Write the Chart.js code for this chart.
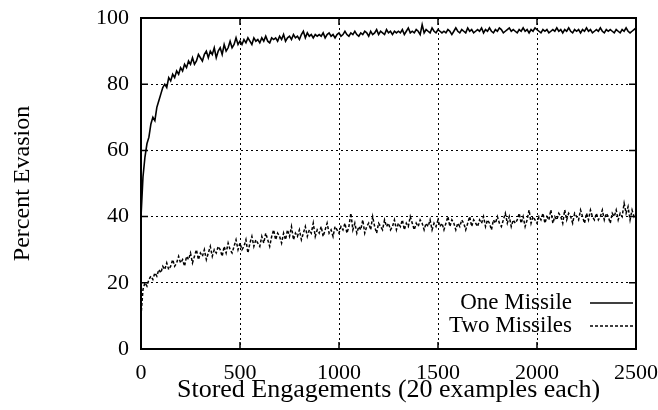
<!DOCTYPE html>
<html>
<head>
<meta charset="utf-8">
<script src="https://cdn.jsdelivr.net/npm/chart.js@4.4.1/dist/chart.umd.min.js"></script>
<style>
  html, body { margin: 0; padding: 0; background: #fff; }
  #wrap { width: 658px; height: 410px; }
</style>
</head>
<body>
<div id="wrap"><canvas id="chart" width="658" height="410"></canvas></div>
<script>
// x positions: one sample every 10 stored engagements, 0..2500
const xStep = 10;
const xTicks = [0, 500, 1000, 1500, 2000, 2500];
const yTicks = [0, 20, 40, 60, 80, 100];

// percent evasion (rows of 10 samples = 100 engagements)
const oneMissile = [
  40, 52, 58, 62, 64, 68, 70, 69, 73, 75,
  77, 79, 80, 79, 82, 81, 83, 82, 84, 83,
  85, 84, 86, 85, 87, 86, 88, 86, 87, 89,
  88, 87, 89, 90, 88, 90, 89, 91, 88, 90,
  91, 89, 92, 90, 91, 93, 91, 92, 94, 92,
  93, 92, 93.5, 92.5, 94, 93, 92, 94, 93, 93.5,
  92.5, 94, 93, 94.5, 93, 92.5, 94, 93.5, 94, 93,
  94.5, 93.5, 95, 93, 94, 94.5, 93.5, 95, 94, 94.5,
  93.5, 95, 96, 94, 95.5, 94.5, 95, 94, 95, 94.5,
  95, 94.5, 95.5, 94, 95, 95.5, 94.5, 95, 94, 95,
  95.5, 94.5, 95, 96, 95, 94.5, 95.5, 95, 96, 95,
  94.5, 95.5, 95, 96, 95.5, 94.5, 96, 95, 95.5, 96.5,
  95, 96, 95.5, 95, 96.5, 95.5, 96, 95, 96, 95.5,
  96, 95.5, 96.5, 95, 96, 97, 95.5, 96, 95.5, 96.5,
  96, 95, 98, 95.5, 96.5, 96, 95.5, 97, 96, 95.5,
  96.5, 96, 95.5, 96, 95.5, 96.5, 96, 95, 96, 97,
  96, 95.5, 96.5, 96, 95.5, 97, 96, 96.5, 95.5, 96,
  96.5, 96, 97, 95.5, 96.5, 96, 97, 96, 95.5, 96.5,
  96, 97, 96.5, 95.5, 96, 96.5, 97, 96, 96.5, 96,
  95.5, 96.5, 96, 97, 96, 96.5, 95.5, 96.5, 96, 97,
  96.5, 96, 95.5, 96.5, 96, 96.5, 95.5, 96, 96.5, 96,
  97, 96, 96.5, 95.5, 96.5, 96, 97, 96, 95.5, 96.5,
  96, 96.5, 95.5, 96.5, 96, 97, 96, 96.5, 95.5, 96,
  96.5, 96, 97, 96, 95.5, 96.5, 96, 96.5, 96, 95.5,
  96.5, 96, 95.5, 96.5, 96, 97, 96, 95.5, 96, 96.5,
  97
];

const twoMissiles = [
  10, 18, 20, 19, 21, 22, 21, 23, 22, 24,
  23, 25, 24, 26, 24, 25, 27, 25, 26, 28,
  26, 27, 25, 28, 27, 29, 26, 28, 30, 27,
  29, 28, 30, 27, 29, 31, 28, 30, 29, 31,
  30, 28, 31, 29, 32, 30, 29, 31, 33, 30,
  32, 30, 31, 33, 29, 32, 34, 31, 33, 32,
  31, 34, 32, 35, 33, 31, 34, 36, 33, 35,
  34, 32, 35, 33, 36, 34, 37, 33, 35, 34,
  36, 33, 35, 37, 34, 36, 35, 38, 34, 36,
  35, 37, 34, 36, 38, 35, 36, 34, 37, 36,
  35, 37, 36, 38, 35, 37, 41, 36, 38, 35,
  37, 36, 39, 35, 37, 38, 36, 40, 37, 35,
  38, 37, 36, 39, 37, 38, 36, 37, 39, 36,
  38, 37, 39, 36, 38, 37, 40, 38, 36, 38,
  37, 39, 38, 36, 38, 37, 39, 36, 38, 37,
  39, 37, 38, 36, 38, 40, 37, 39, 38, 36,
  38, 37, 39, 38, 36, 38, 40, 37, 39, 38,
  37, 39, 38, 40, 37, 39, 38, 36, 39, 38,
  40, 38, 37, 39, 41, 38, 40, 37, 39, 38,
  39, 41, 38, 40, 37, 39, 42, 38, 40, 39,
  38, 40, 39, 41, 38, 40, 39, 42, 38, 40,
  39, 41, 40, 38, 42, 39, 41, 40, 38, 41,
  40, 39, 42, 40, 38, 41, 39, 42, 40, 39,
  41, 39, 40, 42, 39, 41, 40, 38, 41, 40,
  42, 39, 41, 40, 44, 41, 43, 39, 42, 40,
  41
];

const seriesNames = ["One Missile", "Two Missiles"];

const FONT = "'Liberation Serif', 'Times New Roman', serif";
const toPoints = arr => arr.map((v, i) => ({ x: i * xStep, y: v }));

// frame + inward tick marks
const framePlugin = {
  id: "frame",
  afterDatasetsDraw(chart) {
    const { ctx, chartArea: a, scales } = chart;
    ctx.save();
    ctx.strokeStyle = "#000";
    ctx.lineWidth = 1.5;
    ctx.beginPath();
    xTicks.forEach(t => {
      const px = scales.x.getPixelForValue(t);
      ctx.moveTo(px, a.bottom); ctx.lineTo(px, a.bottom - 7);
      ctx.moveTo(px, a.top); ctx.lineTo(px, a.top + 7);
    });
    yTicks.forEach(t => {
      const py = scales.y.getPixelForValue(t);
      ctx.moveTo(a.left, py); ctx.lineTo(a.left + 7, py);
      ctx.moveTo(a.right, py); ctx.lineTo(a.right - 7, py);
    });
    ctx.stroke();
    ctx.lineWidth = 2;
    ctx.strokeRect(a.left, a.top, a.right - a.left, a.bottom - a.top);
    ctx.restore();
  }
};

// gnuplot-style key: text, then line sample
const keyPlugin = {
  id: "key",
  afterDraw(chart) {
    const { ctx, chartArea: a } = chart;
    ctx.save();
    ctx.font = "23px " + FONT;
    ctx.fillStyle = "#000";
    ctx.textAlign = "right";
    ctx.textBaseline = "middle";
    chart.data.datasets.forEach((ds, i) => {
      const y = a.bottom - 46 + i * 23;
      ctx.fillText(ds.label, a.right - 64, y);
      ctx.strokeStyle = "#000";
      ctx.lineWidth = 1.3;
      ctx.setLineDash(ds.borderDash || []);
      ctx.beginPath();
      ctx.moveTo(a.right - 46, y);
      ctx.lineTo(a.right - 3, y);
      ctx.stroke();
    });
    ctx.restore();
  }
};

new Chart(document.getElementById("chart"), {
  type: "line",
  data: {
    datasets: [
      {
        label: seriesNames[0],
        data: toPoints(oneMissile),
        borderColor: "#000",
        borderWidth: 1.6,
        pointRadius: 0,
        tension: 0
      },
      {
        label: seriesNames[1],
        data: toPoints(twoMissiles),
        borderColor: "#000",
        borderWidth: 1.5,
        borderDash: [3, 2],
        pointRadius: 0,
        tension: 0
      }
    ]
  },
  options: {
    responsive: false,
    animation: false,
    layout: { padding: { top: 18, right: 22, left: 0, bottom: 0 } },
    plugins: {
      legend: { display: false },
      tooltip: { enabled: false }
    },
    scales: {
      x: {
        type: "linear",
        min: 0,
        max: 2500,
        afterBuildTicks: s => { s.ticks = xTicks.map(v => ({ value: v })); },
        afterFit: s => { s.height = 61; s.paddingLeft = 0; s.paddingRight = 0; },
        grid: { color: "#000", lineWidth: 1, drawTicks: false },
        border: { display: false, dash: [2, 3] },
        ticks: {
          color: "#000",
          padding: 11,
          font: { family: FONT, size: 22 },
          callback: v => String(v)
        },
        title: {
          display: true,
          text: "Stored Engagements (20 examples each)",
          color: "#000",
          padding: { top: 0, bottom: 4 },
          font: { family: FONT, size: 26 }
        }
      },
      y: {
        min: 0,
        max: 100,
        afterBuildTicks: s => { s.ticks = yTicks.map(v => ({ value: v })); },
        afterFit: s => { s.width = 141; s.paddingTop = 0; s.paddingBottom = 0; },
        grid: { color: "#000", lineWidth: 1, drawTicks: false },
        border: { display: false, dash: [2, 3] },
        ticks: {
          color: "#000",
          padding: 12,
          font: { family: FONT, size: 22 },
          callback: v => String(v)
        },
        title: {
          display: true,
          text: "Percent Evasion",
          color: "#000",
          padding: { top: 8, bottom: 0 },
          font: { family: FONT, size: 24 }
        }
      }
    }
  },
  plugins: [framePlugin, keyPlugin]
});
</script>
</body>
</html>
